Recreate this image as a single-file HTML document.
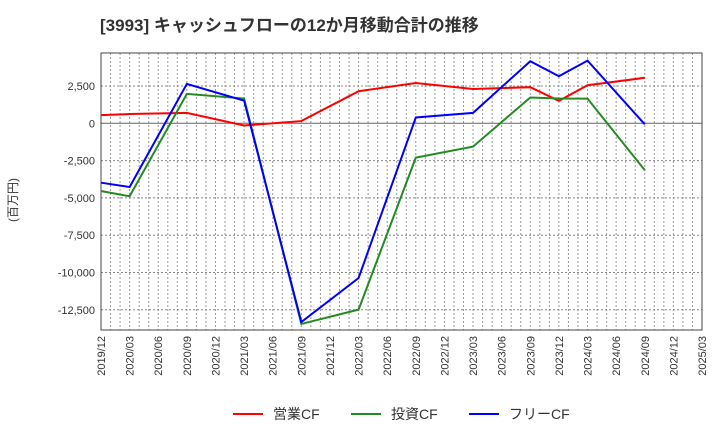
<!DOCTYPE html>
<html><head><meta charset="utf-8"><style>
body{margin:0;background:#fff;font-family:"Liberation Sans","Noto Sans CJK JP",sans-serif}
</style></head><body>
<svg id="c" width="720" height="440" xmlns="http://www.w3.org/2000/svg">
<text x="100" y="31" font-size="17" font-weight="bold" fill="#333" font-family="Liberation Sans,Noto Sans CJK JP,sans-serif">[3993]  キャッシュフローの12か月移動合計の推移</text>
<text transform="translate(17,200) rotate(-90)" font-size="12" fill="#333" text-anchor="middle" font-family="Liberation Sans,Noto Sans CJK JP,sans-serif">(百万円)</text>
<g id="grid"></g><g id="axes"></g><g id="series"></g><g id="legend"></g>
</svg>
<script>
const xLabels=["2019/12","2020/03","2020/06","2020/09","2020/12","2021/03","2021/06","2021/09","2021/12","2022/03","2022/06","2022/09","2022/12","2023/03","2023/06","2023/09","2023/12","2024/03","2024/06","2024/09","2024/12","2025/03"];
const yTicks=[2500,0,-2500,-5000,-7500,-10000,-12500];
const dates=["2019/12","2020/03","2020/09","2021/03","2021/09","2022/03","2022/09","2023/03","2023/09","2023/12","2024/03","2024/09"];
const opCF=[550,620,700,-150,150,2150,2700,2300,2420,1500,2550,3050];
const invCF=[-4540,-4890,1970,1660,-13450,-12490,-2300,-1560,1730,1660,1650,-3140];
const freeCF=[-3980,-4270,2640,1520,-13320,-10370,390,700,4160,3150,4200,-70];
const NS="http://www.w3.org/2000/svg";
const L=101,R=702,T=53,B=330;
function mi(s){const[a,b]=s.split("/").map(Number);return (a-2019)*12+b-12;}
const x=s=>L+mi(s)*(R-L)/63;
const y=v=>123.3-v*37.3/2500;
function mk(t,a,p){const e=document.createElementNS(NS,t);for(const k in a)e.setAttribute(k,a[k]);p.appendChild(e);return e;}
const g=document.getElementById("grid"),ax=document.getElementById("axes"),sg=document.getElementById("series"),lg=document.getElementById("legend");
for(let m=1;m<63;m++){const xx=L+m*(R-L)/63;const e=mk("line",{x1:xx,x2:xx,y1:T,y2:B,stroke:"#999","stroke-dasharray":"2,2","stroke-width":1},g);

}
yTicks.forEach(v=>{const e=mk("line",{x1:L,x2:R,y1:y(v),y2:y(v),stroke:v===0?"#666":"#888","stroke-dasharray":v===0?"":"2,2","stroke-width":1},g);


const t=mk("text",{x:L-6,y:y(v)+4,"font-size":11,"text-anchor":"end",fill:"#333"},ax);t.textContent=v.toLocaleString("en-US");

});
xLabels.forEach(s=>{const xx=x(s),t=mk("text",{transform:`translate(${xx+4},${B+6}) rotate(-90)`,"font-size":11,"text-anchor":"end",fill:"#333"},ax);t.textContent=s;

});
const fr=mk("rect",{x:L,y:T,width:R-L,height:B-T,fill:"none",stroke:"#444","stroke-width":1},ax);


[[opCF,"#f00","営業CF","operating-cf"],[invCF,"#228b22","投資CF","investing-cf"],[freeCF,"#00f","フリーCF","free-cf"]].forEach(([d,c,n,id],i)=>{
const p=mk("polyline",{points:d.map((v,j)=>x(dates[j])+","+y(v)).join(" "),fill:"none",stroke:c,"stroke-width":2},sg);


const lx=233+i*118;
const ll=mk("line",{x1:lx,x2:lx+30,y1:414,y2:414,stroke:c,"stroke-width":2},lg);


const t=mk("text",{x:lx+40,y:419,"font-size":14,fill:"#333"},lg);t.textContent=n;

});
</script>
</body></html>
